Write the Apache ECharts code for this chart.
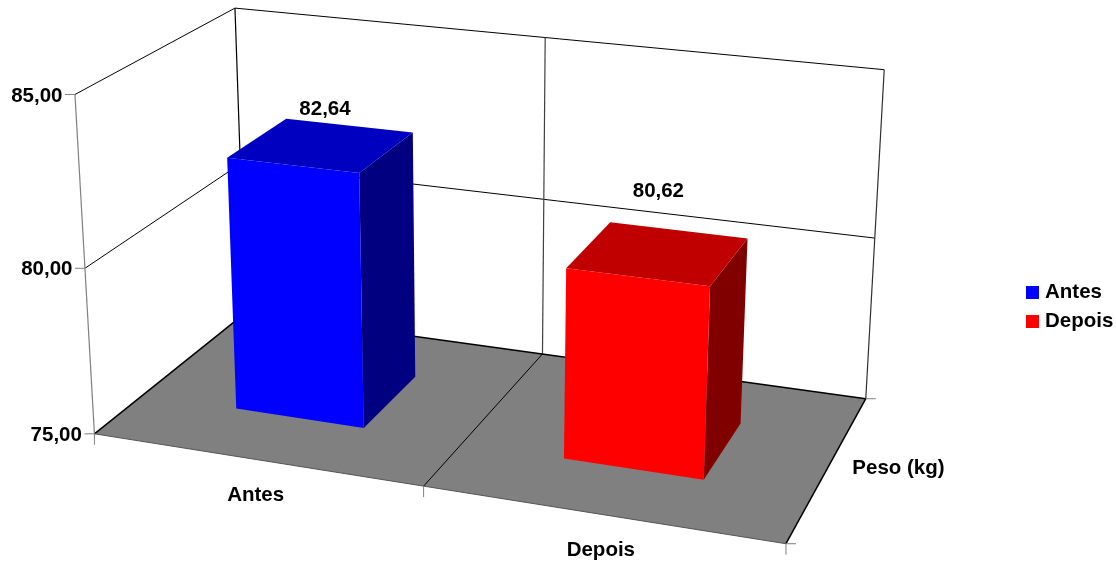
<!DOCTYPE html>
<html>
<head>
<meta charset="utf-8">
<style>html,body{margin:0;padding:0;background:#fff}#chart{width:1116px;height:561px}</style>
<script src="https://cdn.jsdelivr.net/npm/echarts@6/dist/echarts.min.js"></script>
</head>
<body>
<div id="chart"></div>
<script>
const categories = ['Antes', 'Depois'];
const antesValues = [['Antes', 82.64]];
const depoisValues = [['Depois', 80.62]];
const valueTicks = [75, 80, 85];
const valueTickLabels = ['75,00', '80,00', '85,00'];
const valueLabels = ['82,64', '80,62'];
const depthLabel = 'Peso (kg)';

// Perspective camera of the 3D box: (u, v, w) in the unit cube to screen pixels.
// u runs along the categories, v from the front to the back wall, w up the value axis.
const P = [619.5142, 182.1332, -23.01881, 94.4248,
           60.0743, -81.23125, -343.8309, 433.8106,
           -0.09166058, 0.126641, -0.04760139];
function project(u, v, w) {
  const d = P[8] * u + P[9] * v + P[10] * w + 1;
  return [(P[0] * u + P[1] * v + P[2] * w + P[3]) / d,
          (P[4] * u + P[5] * v + P[6] * w + P[7]) / d];
}

const FONT = 'bold 20.5px "Liberation Sans", Arial, sans-serif';
const BAR_BAND_SHARE = 0.4;       // bar width as a share of its category band
const BAR_DEPTH = [0.3, 0.7];     // bar extent along the depth axis
const LABEL_SHIFT = [[3.5, -36], [0, -62]]; // value label offset from the centre of the bar top

function lineEl(a, b, stroke, lineWidth) {
  return {
    type: 'line',
    shape: { x1: a[0], y1: a[1], x2: b[0], y2: b[1] },
    style: { stroke, lineWidth: lineWidth || 1 },
    silent: true
  };
}
function textEl(text, pos, align) {
  return {
    type: 'text',
    style: { x: pos[0], y: pos[1], text, font: FONT, fill: '#000',
             textAlign: align || 'center', textVerticalAlign: 'middle' },
    silent: true
  };
}
function polyEl(points, fill) {
  return { type: 'polygon', shape: { points }, style: { fill }, silent: true };
}

// Normalised box coordinates of a category/value pair.
function toBox(api, params, category, value) {
  const rect = params.coordSys;
  const c = api.coord([category, value]);
  return [(c[0] - rect.x) / rect.width, (rect.y + rect.height - c[1]) / rect.height];
}

// Walls, floor, gridlines, ticks and axis texts.
function renderFrame(params, api) {
  const children = [];
  const black = '#000', gray = '#808080';
  const wOf = (t) => toBox(api, params, 0, t)[1];
  const mid = (toBox(api, params, 0, 75)[0] + toBox(api, params, 1, 75)[0]) / 2;

  children.push(polyEl([project(0, 0, 0), project(1, 0, 0), project(1, 1, 0), project(0, 1, 0)], '#808080'));

  // gridlines on the left and back walls
  valueTicks.slice(1).forEach((t) => {
    const w = wOf(t);
    children.push(lineEl(project(0, 0, w), project(0, 1, w), black));
    children.push(lineEl(project(0, 1, w), project(1, 1, w), black));
  });

  // wall uprights
  children.push(lineEl(project(0, 1, 0), project(0, 1, 1), black, 1.2));
  children.push(lineEl(project(mid, 1, 0), project(mid, 1, 1), '#404040', 1.2));
  children.push(lineEl(project(1, 1, 0), project(1, 1, 1), '#303030', 1.2));

  // floor edges and divider
  children.push(lineEl(project(0, 0, 0), project(0, 1, 0), black, 1.5));
  children.push(lineEl(project(0, 1, 0), project(1, 1, 0), black, 1.5));
  children.push(lineEl(project(1, 1, 0), project(1, 0, 0), black, 1.5));
  children.push(lineEl(project(mid, 0, 0), project(mid, 1, 0), black));
  children.push(lineEl(project(0, 0, 0), project(1, 0, 0), '#555555'));

  // value axis on the front-left corner
  children.push(lineEl(project(0, 0, 0), project(0, 0, 1), gray, 1.2));
  valueTicks.forEach((t, i) => {
    const p = project(0, 0, wOf(t));
    children.push(lineEl([p[0] - 10, p[1]], p, gray));
    children.push(textEl(valueTickLabels[i], [p[0] - 12.5, p[1] + 1.5], 'right'));
  });

  // category ticks and labels along the front edge
  [0, mid, 1].forEach((u) => {
    const p = project(u, 0, 0);
    children.push(lineEl(p, [p[0], p[1] + 11], gray));
  });
  categories.forEach((name, i) => {
    const u = toBox(api, params, i, 75)[0];
    const p = project(u, 0, 0);
    children.push(textEl(name, [p[0] + 0.5, p[1] + 36]));
  });

  // depth axis ticks and label
  [0, 1].forEach((v) => {
    const p = project(1, v, 0);
    children.push(lineEl(p, [p[0] + 10, p[1]], gray));
  });
  const depthPos = project(1, 0.5, 0);
  children.push(textEl(depthLabel, [depthPos[0] + 70, depthPos[1] + 2], 'center'));

  return { type: 'group', children };
}

// One box-shaped bar: front, side and top faces, then its value label.
function renderBar(front, top, side, labelIndex) {
  return function (params, api) {
    const cat = api.value(0);
    const val = api.value(1);
    const box = toBox(api, params, cat, val);
    const half = BAR_BAND_SHARE * (api.size([1, 0])[0] / params.coordSys.width) / 2;
    const u0 = box[0] - half, u1 = box[0] + half;
    const v0 = BAR_DEPTH[0], v1 = BAR_DEPTH[1], w = box[1];
    const centre = project(box[0], (v0 + v1) / 2, w);
    const shift = LABEL_SHIFT[labelIndex];
    return {
      type: 'group',
      children: [
        polyEl([project(u1, v0, 0), project(u1, v1, 0), project(u1, v1, w), project(u1, v0, w)], side),
        polyEl([project(u0, v0, w), project(u1, v0, w), project(u1, v1, w), project(u0, v1, w)], top),
        polyEl([project(u0, v0, 0), project(u1, v0, 0), project(u1, v0, w), project(u0, v0, w)], front),
        textEl(valueLabels[labelIndex], [centre[0] + shift[0], centre[1] + shift[1]])
      ]
    };
  };
}

const chart = echarts.init(document.getElementById('chart'));
chart.setOption({
  animation: false,
  backgroundColor: '#fff',
  grid: { left: 0, right: 0, top: 0, bottom: 0 },
  xAxis: { type: 'category', data: categories, show: false },
  yAxis: { type: 'value', min: 75, max: 85, interval: 5, show: false },
  legend: {
    data: categories,
    orient: 'vertical',
    left: 1026,
    top: 281,
    padding: 0,
    itemWidth: 13,
    itemHeight: 13,
    itemGap: 6,
    icon: 'rect',
    selectedMode: false,
    textStyle: { fontFamily: '"Liberation Sans", Arial, sans-serif', fontWeight: 'bold', fontSize: 20.5, color: '#000', lineHeight: 21, padding: [2, 0, 0, 1] }
  },
  series: [
    { type: 'custom', name: 'frame', coordinateSystem: 'cartesian2d', z: 1, clip: false,
      data: [[0, 75]], renderItem: renderFrame, silent: true },
    { type: 'custom', name: categories[0], coordinateSystem: 'cartesian2d', z: 2, clip: false,
      itemStyle: { color: '#0000ff' }, data: antesValues, encode: { x: 0, y: 1 },
      renderItem: renderBar('#0000ff', '#0000c0', '#000080', 0), silent: true },
    { type: 'custom', name: categories[1], coordinateSystem: 'cartesian2d', z: 2, clip: false,
      itemStyle: { color: '#ff0000' }, data: depoisValues, encode: { x: 0, y: 1 },
      renderItem: renderBar('#ff0000', '#c00000', '#800000', 1), silent: true }
  ]
});
</script>
</body>
</html>
